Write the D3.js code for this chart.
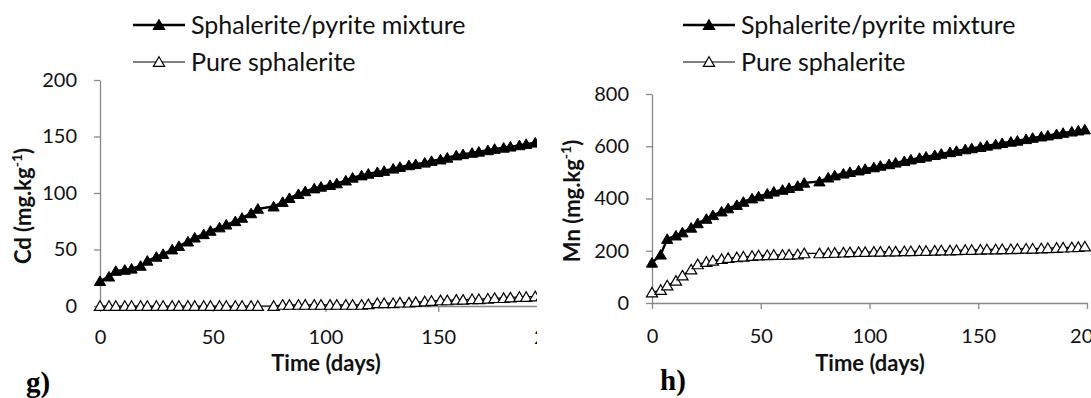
<!DOCTYPE html>
<html><head><meta charset="utf-8">
<script src="https://cdn.jsdelivr.net/npm/d3@7"></script>
<style>body{margin:0;background:#fff}svg{display:block}</style>
</head><body>
<svg id="c" width="1091" height="398"></svg>
<script>
// ---------- data ----------
const days = [0,4,7,11,14,18,21,25,28,32,35,39,42,46,49,53,56,60,63,67,70,77,81,84,88,91,95,98,102,105,109,112,116,119,123,126,130,133,137,140,144,147,151,154,158,161,165,168,172,175,179,182,186,189,193,196,199];
const cdMixture = [22,26,31,32,33,35.5,40,43.5,46,50,53,57,60.5,63.5,66.5,69.5,72,75,78,82,86,88,92,95.5,99,101.5,104,105.5,107,108.5,111,113.5,115.5,117,118.5,119.5,121.5,123,124.5,125.5,126.8,128.3,129.6,131.2,133.2,134.3,135.5,136.5,137.8,139,140,141,142.2,143.3,144.5,145.5,146.5];
const cdPure = [0,0,0,0,0,0,0,0,0,0,0,0,0,0,0,0,0,0,0,0,0,0,1,1,1,1,1,1,1,1,1,1,1,1.5,2.5,2.5,2.5,3,3,3.5,4,4.5,5,5,5.5,5.5,6,6,6.5,7,7,7.5,8,8,8.5,9,9];
const mnMixture = [154,185,245,258,270,288,305,322,336,350,362,375,387,400,408,418,426,433,440,448,460,465,480,488,495,501,507,513,519,525,531,537,543,549,555,560,566,571,577,582,588,592,597,602,607,612,617,621,627,632,637,641,646,651,656,660,664];
const mnPure = [40,50,67,85,105,128,148,157,162,168,172,175,177,180,182,183,184,184,185,186,190,190,191,192,193,194,195,195,196,196,197,197,198,198,199,199,200,201,201,202,203,203,204,205,205,206,206,207,208,208,209,210,211,212,213,214,216];
const xTicks = [0,50,100,150,200];
const cdTicks = [0,50,100,150,200];
const mnTicks = [0,200,400,600,800];
const seriesNames = ["Sphalerite/pyrite mixture","Pure sphalerite"];
const yTitles = ["Cd","Mn"];
const xTitle = "Time (days)";
const panelLabels = ["g)","h)"];

// ---------- drawing ----------
const svg = d3.select("#c");
svg.append("rect").attr("width",1091).attr("height",398).attr("fill","#fff");
const defs = svg.append("defs");
defs.append("clipPath").attr("id","clipL").append("rect").attr("x",0).attr("y",0).attr("width",537).attr("height",398);

const AX = "#888888";
const FONT = "Lato, 'Open Sans', sans-serif";
const tri = "M0,-5.2L5.6,4.4L-5.6,4.4Z";

const panels = [
  {mix:cdMixture, pure:cdPure, ticks:cdTicks, yMax:200, xr:[100,551], yr:[306,80], clip:"clipL",
   yTitle:yTitles[0], yTitleX:23, yTitleY:206, legX:133, label:panelLabels[0], labelX:26, labelY:392, xPad:18, xTitleX:326},
  {mix:mnMixture, pure:mnPure, ticks:mnTicks, yMax:800, xr:[652,1087], yr:[303,94], clip:null,
   yTitle:yTitles[1], yTitleX:572, yTitleY:201, legX:683, label:panelLabels[1], labelX:660, labelY:390, xPad:20, xTitleX:870}
];

panels.forEach(p => {
  const g = svg.append("g");
  if (p.clip) g.attr("clip-path", `url(#${p.clip})`);
  const x = d3.scaleLinear().domain([0,200]).range(p.xr);
  const y = d3.scaleLinear().domain([0,p.yMax]).range(p.yr);

  // axes
  const gx = g.append("g").attr("transform",`translate(0,${p.yr[0]})`)
    .call(d3.axisBottom(x).tickValues(xTicks).tickSize(6).tickSizeOuter(0).tickPadding(p.xPad));
  const gy = g.append("g").attr("transform",`translate(${p.xr[0]},0)`)
    .call(d3.axisLeft(y).tickValues(p.ticks).tickSize(6).tickSizeOuter(0).tickPadding(17));
  [gx,gy].forEach(a => {
    a.attr("font-family",FONT).attr("font-size",20);
    a.select(".domain").attr("stroke",AX).attr("stroke-width",1.3);
    a.selectAll(".tick line").attr("stroke",AX).attr("stroke-width",1.3);
    a.selectAll(".tick text").attr("fill","#111");
  });

  const line = d3.line().x((d,i)=>x(days[i])).y(d=>y(d));
  // mixture series
  g.append("path").datum(p.mix).attr("d",line).attr("fill","none").attr("stroke","#000").attr("stroke-width",2.4);
  g.selectAll(".mk1").data(p.mix).join("path").attr("class","mk1")
    .attr("d",tri).attr("transform",(d,i)=>`translate(${x(days[i])},${y(d)})`)
    .attr("fill","#000").attr("stroke","#000").attr("stroke-width",1);
  // pure series
  g.append("path").datum(p.pure).attr("d",line).attr("fill","none").attr("stroke","#000").attr("stroke-width",1.2);
  g.selectAll(".mk2").data(p.pure).join("path").attr("class","mk2")
    .attr("d",tri).attr("transform",(d,i)=>`translate(${x(days[i])},${y(d)})`)
    .attr("fill","#fff").attr("stroke","#000").attr("stroke-width",1.2);

  // axis titles
  g.append("text").attr("x", p.xTitleX).attr("y", 371).attr("text-anchor","middle")
    .attr("font-family",FONT).attr("font-weight","bold").attr("font-size",22).attr("fill","#111").text(xTitle);
  const yt = svg.append("text").attr("transform",`translate(${p.yTitleX},${p.yTitleY}) rotate(-90)`)
    .attr("text-anchor","middle").attr("dy","0.35em")
    .attr("font-family",FONT).attr("font-weight","bold").attr("font-size",22).attr("fill","#111");
  yt.append("tspan").text(p.yTitle + " (mg.kg");
  yt.append("tspan").attr("dy",-9).attr("font-size",14).text("-1");
  yt.append("tspan").attr("dy",9).text(")");

  // legend
  const lg = svg.append("g").attr("transform",`translate(${p.legX},0)`);
  [[25,2.6,"#000"],[62,1.2,"#fff"]].forEach(([ly,sw,fill],k) => {
    lg.append("line").attr("x1",0).attr("x2",52).attr("y1",ly).attr("y2",ly).attr("stroke","#000").attr("stroke-width",sw);
    lg.append("path").attr("d",tri).attr("transform",`translate(26,${ly})`).attr("fill",fill).attr("stroke","#000").attr("stroke-width",1.2);
    lg.append("text").attr("x",58).attr("y",ly+9).attr("font-family",FONT).attr("font-size",25).attr("fill","#111").text(seriesNames[k]);
  });

  // panel label
  svg.append("text").attr("x",p.labelX).attr("y",p.labelY).attr("font-family","'Liberation Serif', 'Times New Roman', serif")
    .attr("font-weight","bold").attr("font-size",29).attr("fill","#000").text(p.label);
});
</script>
</body></html>
